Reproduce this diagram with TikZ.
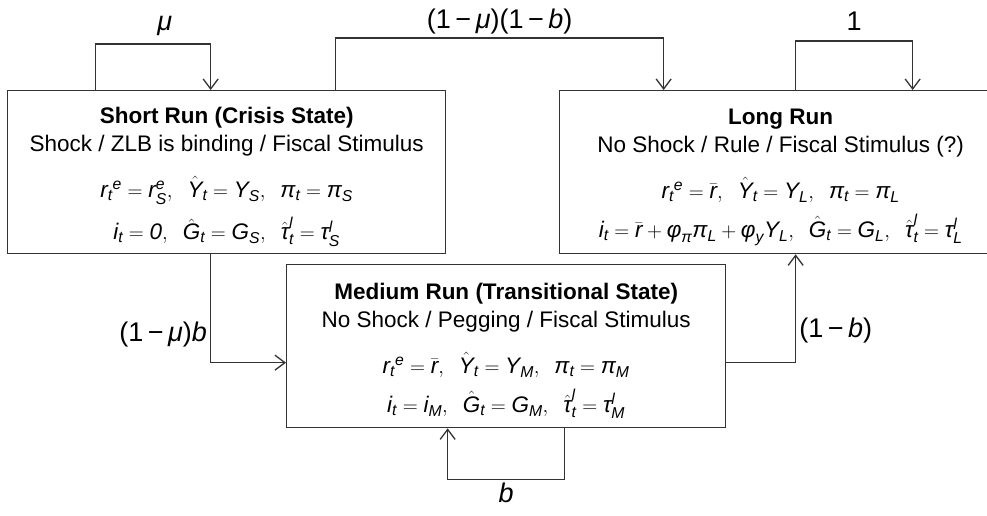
\documentclass[tikz,border=0pt]{standalone}
\usepackage{amsmath}
\usepackage{fontspec}
\setmainfont{Liberation Sans}
\usetikzlibrary{arrows.meta}
\newcommand{\iv}[1]{\textit{#1}}

\begin{document}
\begin{tikzpicture}[x=1pt,y=-1pt,line width=1.3pt,>={Straight Barb[length=10pt,width=15pt]},
  state/.style={draw=black!80,anchor=north west,align=center,inner sep=0pt,font=\fontsize{22.5}{28}\selectfont},
  prob/.style={font=\fontsize{27}{30}\selectfont,inner sep=3pt}]
  \clip (0,0) rectangle (987,516);
  % estados
  \node[state,minimum width=438pt,minimum height=163pt] (short) at (7,90) {%
    \rule{0pt}{26pt}\textbf{Short Run (Crisis State)}\\
    Shock / ZLB is binding / Fiscal Stimulus\\[18pt]
    $\iv{r}_{\iv{t}}{}^{\iv{e}} = \iv{r}_{\iv{S}}^{\iv{e}},\;\; \hat{\iv{Y}}_{\iv{t}} = \iv{Y}_{\iv{S}},\;\; \iv{π}_{\iv{t}} = \iv{π}_{\iv{S}}$\\[11pt]
    $\iv{i}_{\iv{t}} = \iv{0},\;\; \hat{\iv{G}}_{\iv{t}} = \iv{G}_{\iv{S}},\;\; \hat{\iv{τ}}_{\iv{t}}^{\iv{l}} = \iv{τ}_{\iv{S}}^{\iv{l}}$};
  \node[state,minimum width=442pt,minimum height=163pt] (long) at (559,90) {%
    \rule{0pt}{26pt}\textbf{Long Run}\\
    No Shock / Rule / Fiscal Stimulus (?)\\[18pt]
    $\iv{r}_{\iv{t}}{}^{\iv{e}} = \bar{\iv{r}},\;\; \hat{\iv{Y}}_{\iv{t}} = \iv{Y}_{\iv{L}},\;\; \iv{π}_{\iv{t}} = \iv{π}_{\iv{L}}$\\[11pt]
    $\iv{i}_{\iv{t}} = \bar{\iv{r}} + \iv{φ}_{\iv{π}}\iv{π}_{\iv{L}} + \iv{φ}_{\iv{y}}\iv{Y}_{\iv{L}},\;\; \hat{\iv{G}}_{\iv{t}} = \iv{G}_{\iv{L}},\;\; \hat{\iv{τ}}_{\iv{t}}^{\iv{l}} = \iv{τ}_{\iv{L}}^{\iv{l}}$};
  \node[state,minimum width=439pt,minimum height=163pt] (medium) at (286,264) {%
    \rule{0pt}{26pt}\textbf{Medium Run (Transitional State)}\\
    No Shock / Pegging / Fiscal Stimulus\\[18pt]
    $\iv{r}_{\iv{t}}{}^{\iv{e}} = \bar{\iv{r}},\;\; \hat{\iv{Y}}_{\iv{t}} = \iv{Y}_{\iv{M}},\;\; \iv{π}_{\iv{t}} = \iv{π}_{\iv{M}}$\\[11pt]
    $\iv{i}_{\iv{t}} = \iv{i}_{\iv{M}},\;\; \hat{\iv{G}}_{\iv{t}} = \iv{G}_{\iv{M}},\;\; \hat{\iv{τ}}_{\iv{t}}^{\iv{l}} = \iv{τ}_{\iv{M}}^{\iv{l}}$};
  % transiciones
  \draw[->,black!80] ([xshift=-131pt]short.north) -- ++(0,-46) -| ([xshift=-16pt]short.north)
    node[prob,pos=0.3,above=5pt,black]{\iv{μ}};
  \draw[->,black!80] ([xshift=109pt]short.north) -- ++(0,-52) -| ([xshift=-117pt]long.north)
    node[prob,pos=0.25,above,black]{(1\,−\,\iv{μ})(1\,−\,\iv{b})};
  \draw[->,black!80] ([xshift=15pt]long.north) -- ++(0,-49) -| ([xshift=132pt]long.north)
    node[prob,pos=0.25,above=7pt,black]{1};
  \draw[->,black!80] ([xshift=-16pt]short.south) |- ([yshift=-16.5pt]medium.west)
    node[prob,pos=0.37,left,black]{(1\,−\,\iv{μ})\iv{b}};
  \draw[->,black!80] ([yshift=-16.5pt]medium.east) -| ([xshift=15pt]long.south)
    node[prob,pos=0.65,right,black]{(1\,−\,\iv{b})};
  \draw[->,black!80] ([xshift=58.5pt]medium.south) -- ++(0,51) -| ([xshift=-58.5pt]medium.south)
    node[prob,pos=0.25,below,black]{\iv{b}};
\end{tikzpicture}
\end{document}
